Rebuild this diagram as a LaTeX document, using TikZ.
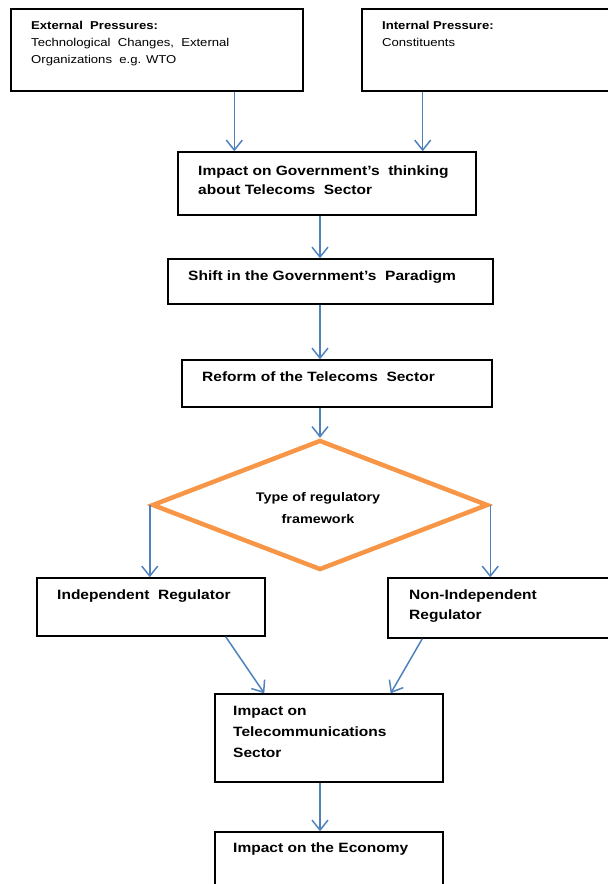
\documentclass[tikz,border=0pt]{standalone}
\usepackage{fontspec}
\setmainfont{Liberation Sans}[FakeStretch=1.15]
\usetikzlibrary{arrows.meta,shapes.geometric}
\definecolor{arrblue}{RGB}{79,129,189}
\definecolor{dorange}{RGB}{247,150,70}

\begin{document}
\begin{tikzpicture}[x=1pt, y=-1pt, box/.style={draw, line width=1.4pt, inner sep=0pt}, txt/.style={anchor=north west, inner sep=0pt, align=left, font=\fontsize{13.5}{19}\selectfont\bfseries}, arr/.style={arrblue, line width=1.5pt, -{Straight Barb[length=10pt, width=16pt]}}]
	\useasboundingbox (0,0) rectangle (608,884);
	\coordinate (ax) at (320,0);
	% boxes
	\node[box, minimum width=292pt, minimum height=82pt] (ext) at (157,50) {};
	\node[box, minimum width=250pt, minimum height=82pt] (int) at (487,50) {};
	\node[box, minimum width=298pt, minimum height=63pt] (gov) at (327,183.5) {};
	\node[box, minimum width=325pt, minimum height=45pt] (shift) at (330.5,281.5) {};
	\node[box, minimum width=310pt, minimum height=47pt] (reform) at (337,383.5) {};
	\node[diamond, draw=dorange, line width=4.5pt, minimum width=336pt, minimum height=130pt, inner sep=0pt] (typ) at (320,505) {};
	\node[box, minimum width=228pt, minimum height=58pt] (indep) at (151,607) {};
	\node[box, minimum width=224pt, minimum height=60pt] (nonind) at (500,608) {};
	\node[box, minimum width=228pt, minimum height=88pt] (telec) at (329,738) {};
	\node[box, minimum width=228pt, minimum height=58pt] (econ) at (329,861) {};
	% texts
	\node[txt, font=\fontsize{11.4}{17}\selectfont] (extT) at (31,21) {\textbf{External\ \ Pressures:}\\Technological\ \ Changes,\ \ External\\Organizations\ \ e.g. WTO};
	\node[txt, font=\fontsize{11.4}{17}\selectfont] (intT) at (382,21) {\textbf{Internal Pressure:}\\Constituents};
	\node[txt] (govT) at (198,166) {Impact on Government's\ \ thinking\\about Telecoms\ \ Sector};
	\node[txt] (shiftT) at (188,271) {Shift in the Government's\ \ Paradigm};
	\node[txt] (reformT) at (202,372) {Reform of the Telecoms\ \ Sector};
	\node[align=center, inner sep=0pt, font=\fontsize{12.5}{22}\selectfont\bfseries] (typT) at (318,508) {Type of regulatory\\framework};
	\node[txt] (indepT) at (57,590) {Independent\ \ Regulator};
	\node[txt, font=\fontsize{13.5}{20}\selectfont\bfseries] (nonindT) at (409,590) {Non-Independent\\Regulator};
	\node[txt, font=\fontsize{13.5}{21}\selectfont\bfseries] (telecT) at (233,706) {Impact on\\Telecommunications\\Sector};
	\node[txt] (econT) at (233,843) {Impact on the Economy};
	% connectors
	\draw[arr] ([xshift=57pt]gov.north west |- ext.south) -- ([xshift=57pt]gov.north west);
	\draw[arr] ([xshift=-54pt]gov.north east |- int.south) -- ([xshift=-54pt]gov.north east);
	\draw[arr] (gov.south -| ax) -- (shift.north -| ax);
	\draw[arr] (shift.south -| ax) -- (reform.north -| ax);
	\draw[arr] (reform.south -| ax) -- (typ.north);
	\draw[arr] (typ.west) -- (typ.west |- indep.north);
	\draw[arr] (typ.east) -- (typ.east |- nonind.north);
	\draw[arr] ([xshift=-40pt]indep.south east) -- ([xshift=50pt]telec.north west);
	\draw[arr] ([xshift=35pt]nonind.south west) -- ([xshift=-53pt]telec.north east);
	\draw[arr] (telec.south -| ax) -- (econ.north -| ax);
\end{tikzpicture}
\end{document}
